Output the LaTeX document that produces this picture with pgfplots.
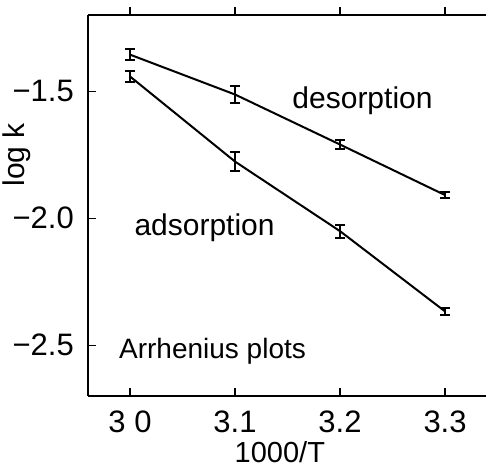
\documentclass[border=0pt]{standalone}
\usepackage{fontspec}
\setmainfont{Liberation Sans}
\usepackage{pgfplots}
\pgfplotsset{compat=1.18}
\begin{document}
\begin{tikzpicture}
\fontsize{30}{34}\selectfont
\useasboundingbox (-88pt,-71pt) rectangle (398pt,396pt);
\begin{axis}[
  at={(0,0)}, anchor=south west,
  scale only axis, width=398pt, height=381pt,
  xmin=2.96, xmax=3.339, ymin=-2.7, ymax=-1.2,
  axis x line*=bottom, axis y line*=left,
  axis line style={-, line width=1.6pt},
  tick align=inside, major tick length=8pt,
  tick style={line width=1.4pt, black},
  xtick={3.0,3.1,3.2,3.3}, xticklabels={3 0,3.1,3.2,3.3},
  ytick={-2.5,-2.0,-1.5}, yticklabels={−2.5,−2.0,−1.5},
  xtick pos=bottom, ytick pos=left,
  xticklabel style={font=\fontsize{31}{34}\selectfont, inner sep=0pt, yshift=-15pt},
  yticklabel style={font=\fontsize{31}{34}\selectfont, xshift=-4pt},
  xlabel={1000/T}, ylabel={log k},
  xlabel style={font=\fontsize{29}{34}\selectfont, inner sep=0pt, at={(axis description cs:0.482,-0.146)}, anchor=center},
  ylabel style={font=\fontsize{30}{34}\selectfont, inner sep=0pt, at={(axis description cs:-0.178,0.633)}, anchor=center, rotate=0},
  clip=false,
]
\addplot[black, line width=2pt, mark=none, error bars/.cd, y dir=both, y explicit,
  error bar style={line width=2pt}, error mark options={rotate=90, mark size=5pt, line width=2pt}]
  coordinates {
  (3.0,-1.356) +- (0,0.022)
  (3.1,-1.513) +- (0,0.032)
  (3.2,-1.710) +- (0,0.016)
  (3.3,-1.909) +- (0,0.012)
  };
\addplot[black, line width=2pt, mark=none, error bars/.cd, y dir=both, y explicit,
  error bar style={line width=2pt}, error mark options={rotate=90, mark size=5pt, line width=2pt}]
  coordinates {
  (3.0,-1.442) +- (0,0.023)
  (3.1,-1.777) +- (0,0.037)
  (3.2,-2.051) +- (0,0.025)
  (3.3,-2.367) +- (0,0.015)
  };
\node[font=\fontsize{30}{34}\selectfont] at (axis cs:3.2214,-1.537) {desorption};
\node[font=\fontsize{30}{34}\selectfont] at (axis cs:3.071,-2.037) {adsorption};
\node[font=\fontsize{28}{34}\selectfont] at (axis cs:3.0786,-2.525) {Arrhenius plots};
\end{axis}
\begin{axis}[
  at={(0,0)}, anchor=south west,
  scale only axis, width=398pt, height=381pt,
  xmin=2.96, xmax=3.339, ymin=-2.7, ymax=-1.2,
  axis x line*=top, axis y line=none,
  axis line style={-, line width=1.6pt},
  tick align=outside, major tick length=8pt,
  tick style={line width=1.4pt, black},
  xtick={3.0,3.1,3.2,3.3}, xticklabels={},
  xtick pos=top,
]
\end{axis}
\end{tikzpicture}
\end{document}
